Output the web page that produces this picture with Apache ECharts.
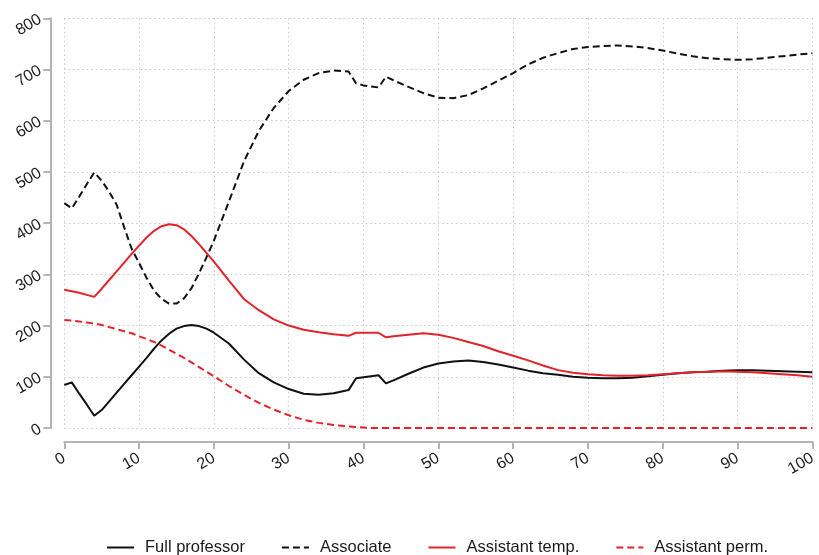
<!DOCTYPE html>
<html>
<head>
<meta charset="utf-8">
<script src="https://cdn.jsdelivr.net/npm/echarts@6/dist/echarts.min.js"></script>
<style>
  html, body { margin: 0; padding: 0; background: #fff; }
  #chart { width: 819px; height: 555px; }
</style>
</head>
<body>
<div id="chart"></div>
<script>
// Horizontal positions shared by every series
const xs = [0,1,2,3,4,5,6,7,8,9,10,11,12,13,14,15,16,17,18,19,20,
  22,24,26,28,30,32,34,36,38,39,40,41,42,43,
  44,46,48,50,52,54,56,58,60,62,64,66,68,70,72,74,76,78,80,82,84,86,88,90,92,94,96,98,100];

const fullProfessor = [84,89,67,46,24,35,52,69,86,103,120,137,155,171,184,194,199,201,199,194,186,
  165,134,107,89,76,67,65,68,74,97,99,101,103,87,
  93,106,118,126,130,132,129,124,118,112,107,104,100,98,97,97,98,101,104,107,109,110,112,113,113,112,111,110,109];

const associate = [439,429,452,476,499,483,461,436,392,350,322,293,268,252,243,243,253,273,302,333,366,
  442,520,580,625,658,680,693,698,696,673,669,667,665,686,
  679,666,654,645,644,650,663,678,693,710,723,732,740,744,746,747,745,742,737,731,726,722,720,719,720,723,726,729,732];

const assistantTemp = [270,267,264,260,256,272,289,306,323,340,356,372,385,394,398,396,388,375,359,342,325,
  288,252,230,212,200,192,187,183,180,186,186,186,186,177,
  179,182,185,182,176,168,160,150,141,132,122,113,108,105,103,102,102,103,105,107,109,110,111,110,109,107,105,103,100];

const assistantPerm = [211,210,208,206,204,201,197,193,189,185,179,174,168,161,153,145,137,128,119,110,101,
  82,65,49,36,25,16,10,6,3,2,1,0,0,0,
  0,0,0,0,0,0,0,0,0,0,0,0,0,0,0,0,0,0,0,0,0,0,0,0,0,0,0,0,0];

const xTicks = { min: 0, max: 100, step: 10 };
const yTicks = { min: 0, max: 800, step: 100 };

const seriesNames = ['Full professor', 'Associate', 'Assistant temp.', 'Assistant perm.'];
const seriesValues = [fullProfessor, associate, assistantTemp, assistantPerm];
const seriesColors = ['#111111', '#111111', '#e3232b', '#e3232b'];
const seriesDash = ['solid', [7, 4], 'solid', [7, 4]];

const FONT = 'Liberation Sans, Arial, Helvetica, sans-serif';
const AXIS_GRAY = '#b4b4b4';

const chart = echarts.init(document.getElementById('chart'), null, { renderer: 'canvas' });

// Axes sit a little away from the plot area, with dotted grid lines inside it
function axisStyle(ticks, margin) {
  return {
    type: 'value',
    min: ticks.min, max: ticks.max, interval: ticks.step,
    offset: 14,
    axisLine: { show: true, onZero: false, lineStyle: { color: AXIS_GRAY, width: 2 } },
    axisTick: { show: true, inside: false, length: 7, lineStyle: { color: AXIS_GRAY, width: 2 } },
    axisLabel: { rotate: 30, margin: margin, color: '#1a1a1a', fontFamily: FONT, fontSize: 16 },
    splitLine: { show: true, lineStyle: { color: '#c8c8c8', width: 1, type: [1.5, 3] } }
  };
}

chart.setOption({
  animation: false,
  backgroundColor: '#ffffff',
  grid: { left: 64.3, right: 0.7, top: 18.3, bottom: 127, containLabel: false },
  xAxis: axisStyle(xTicks, 15),
  yAxis: axisStyle(yTicks, 10),
  legend: {
    left: 106,
    top: 539,
    padding: 0,
    itemWidth: 27,
    itemHeight: 14,
    itemGap: 36,
    itemStyle: { opacity: 0 },
    textStyle: { color: '#1a1a1a', fontFamily: FONT, fontSize: 16.5, padding: [0, 0, 0, 6] },
    data: seriesNames
  },
  series: seriesNames.map((name, i) => ({
    name: name,
    type: 'line',
    data: xs.map((x, j) => [x, seriesValues[i][j]]),
    showSymbol: false,
    symbol: 'none',
    smooth: false,
    color: seriesColors[i],
    lineStyle: { color: seriesColors[i], width: 2, type: seriesDash[i] },
    z: 2 + i
  }))
});
</script>
</body>
</html>
